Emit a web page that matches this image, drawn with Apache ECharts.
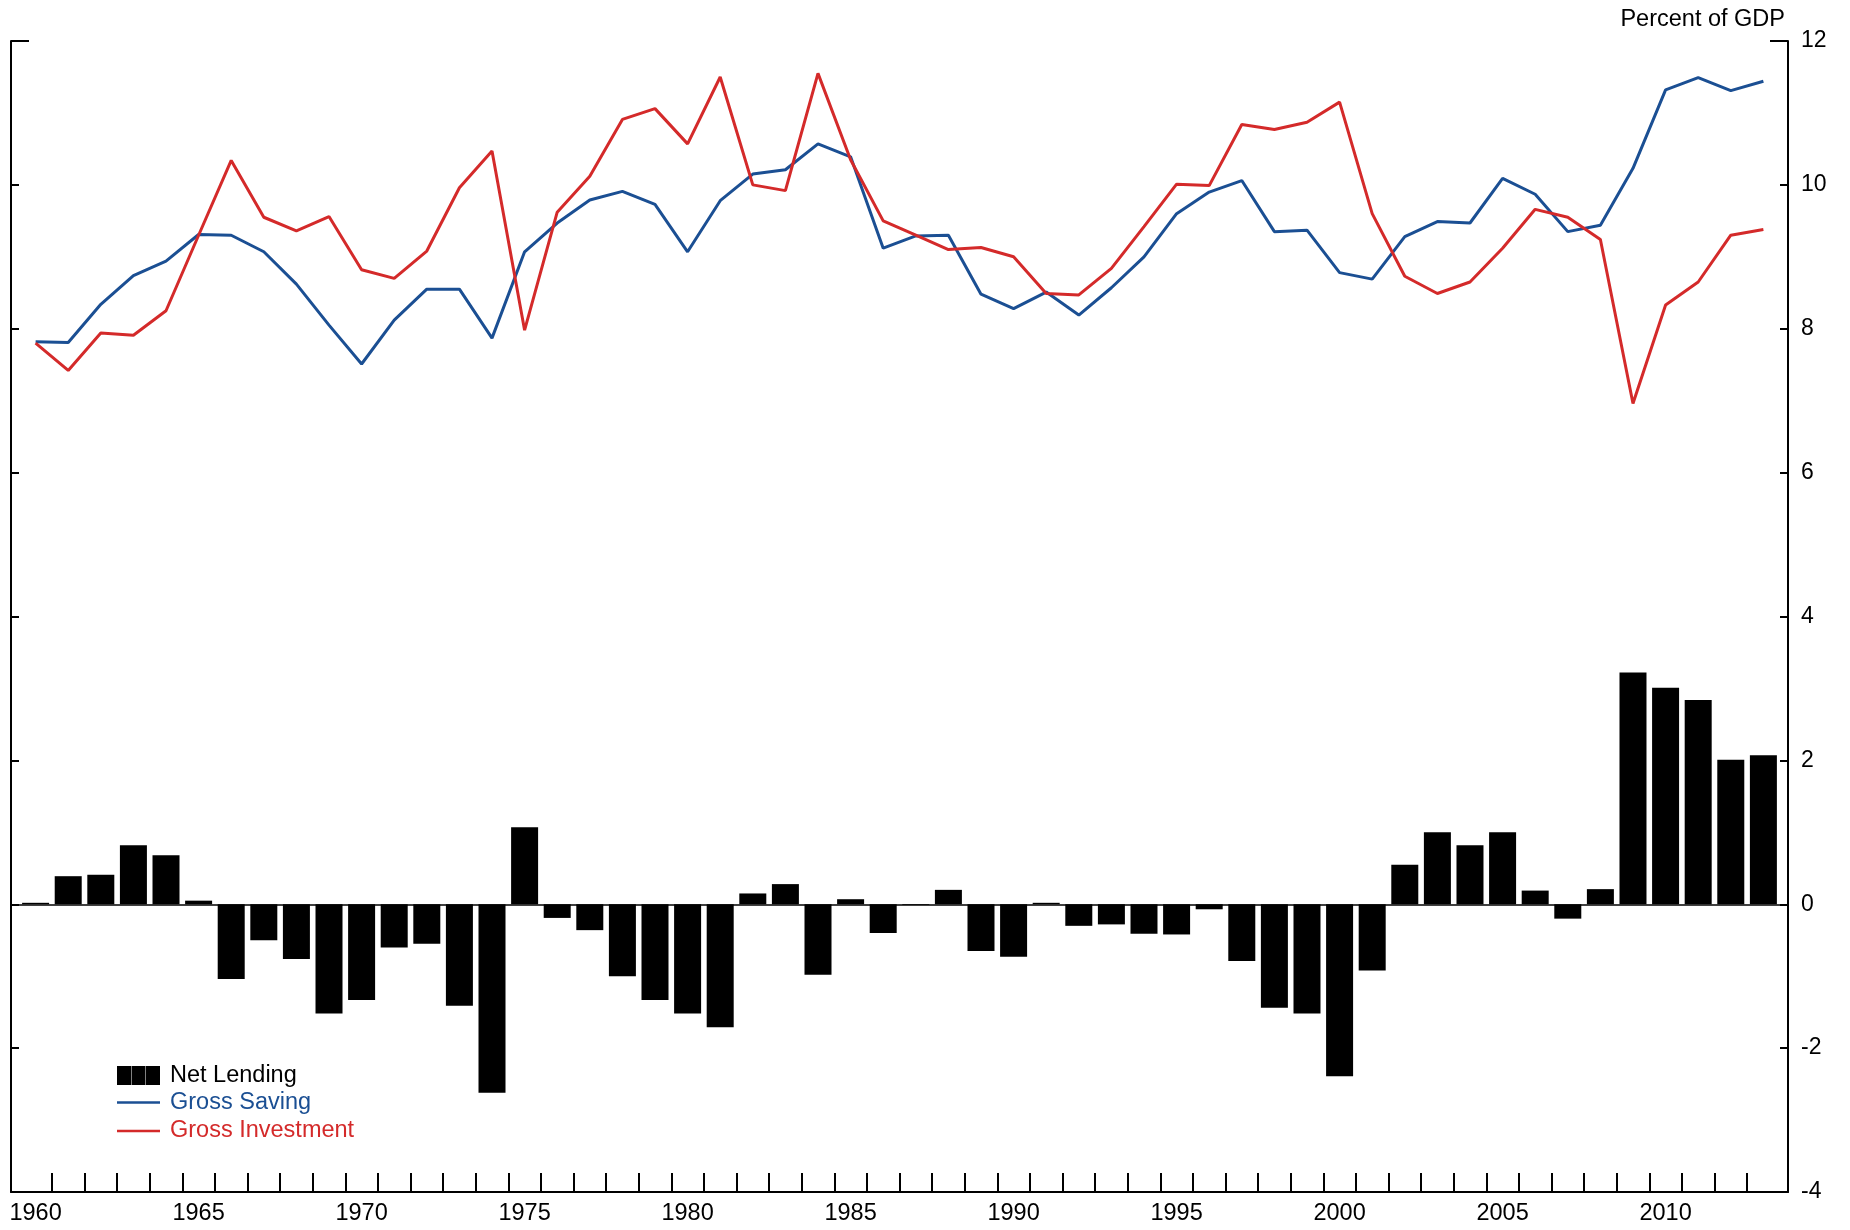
<!DOCTYPE html>
<html>
<head>
<meta charset="utf-8">
<script src="https://cdn.jsdelivr.net/npm/echarts@6/dist/echarts.min.js"></script>
<style>html,body{margin:0;padding:0;background:#fff}#c{width:1850px;height:1230px}</style>
</head>
<body>
<div id="c"></div>
<script>
const years = [1960,1961,1962,1963,1964,1965,1966,1967,1968,1969,
  1970,1971,1972,1973,1974,1975,1976,1977,1978,1979,
  1980,1981,1982,1983,1984,1985,1986,1987,1988,1989,
  1990,1991,1992,1993,1994,1995,1996,1997,1998,1999,
  2000,2001,2002,2003,2004,2005,2006,2007,2008,2009,
  2010,2011,2012,2013];
const grossSaving = [7.82,7.81,8.34,8.74,8.94,9.31,9.30,9.07,8.62,8.05,
  7.51,8.12,8.55,8.55,7.87,9.07,9.47,9.79,9.91,9.73,
  9.07,9.78,10.15,10.21,10.57,10.39,9.12,9.29,9.30,8.48,
  8.28,8.51,8.19,8.57,9.00,9.60,9.90,10.06,9.35,9.37,
  8.78,8.69,9.28,9.49,9.47,10.09,9.87,9.35,9.44,10.23,
  11.32,11.49,11.31,11.44];
const grossInvestment = [7.80,7.42,7.94,7.91,8.25,9.30,10.34,9.55,9.36,9.56,
  8.82,8.70,9.08,9.96,10.47,7.98,9.62,10.12,10.91,11.06,
  10.57,11.50,10.00,9.92,11.55,10.35,9.50,9.30,9.10,9.13,
  9.00,8.49,8.47,8.84,9.42,10.01,9.99,10.84,10.77,10.87,
  11.15,9.60,8.73,8.49,8.65,9.12,9.66,9.55,9.24,6.96,
  8.33,8.65,9.30,9.38];
const netLending = [0.02,0.39,0.41,0.82,0.68,0.05,-1.04,-0.50,-0.76,-1.52,
  -1.33,-0.60,-0.55,-1.41,-2.62,1.07,-0.19,-0.36,-1.00,-1.33,
  -1.52,-1.71,0.15,0.28,-0.98,0.07,-0.40,-0.01,0.20,-0.65,
  -0.73,0.02,-0.30,-0.28,-0.41,-0.42,-0.07,-0.79,-1.44,-1.52,
  -2.39,-0.92,0.55,1.00,0.82,1.00,0.19,-0.20,0.21,3.22,
  3.01,2.84,2.01,2.07];
const xTickLabels = ['1960','1965','1970','1975','1980','1985','1990','1995','2000','2005','2010'];
const yMin = -4, yMax = 12, yStep = 2;
const unitLabel = 'Percent of GDP';

const BLUE = '#1b4f93', RED = '#d42a2a';
const FONT = '"Liberation Sans", Arial, sans-serif';
const plotL = 11, plotR = 1788, plotT = 41, plotB = 1192;
const xMin = 1959.245, xMax = 2013.755;
const pxPerYear = (plotR - plotL) / (xMax - xMin);
const yearX = y => plotL + (y - xMin) * pxPerYear;
const tickL = yearX(years[0] + 0.5), tickR = yearX(years[years.length - 2] + 0.5);
const labL = yearX(+xTickLabels[0]), labR = yearX(+xTickLabels[xTickLabels.length - 1]);
const plotH = plotB - plotT;
const labStep = +xTickLabels[1] - +xTickLabels[0];

const chart = echarts.init(document.getElementById('c'), null, {renderer: 'canvas'});
const black2 = {color: '#000', width: 2};
chart.setOption({
  animation: false,
  backgroundColor: '#fff',
  textStyle: {fontFamily: FONT},
  grid: [
    {left: plotL, top: plotT, width: plotR - plotL, height: plotH},
    {left: tickL, top: plotT, width: tickR - tickL, height: plotH},
    {left: labL, top: plotT, width: labR - labL, height: plotH}
  ],
  xAxis: [
    {type: 'value', gridIndex: 0, min: xMin, max: xMax, position: 'bottom',
     axisLine: {show: true, onZero: false, lineStyle: black2},
     axisTick: {show: false}, axisLabel: {show: false}, splitLine: {show: false}},
    {type: 'value', gridIndex: 1, min: 0, max: years.length - 2, interval: 1, position: 'bottom',
     axisLine: {show: false, onZero: false},
     axisTick: {show: true, inside: true, length: 19, lineStyle: black2},
     axisLabel: {show: false}, splitLine: {show: false}},
    {type: 'value', gridIndex: 2, min: 0, max: (xTickLabels.length - 1) * labStep, interval: labStep, position: 'bottom',
     axisLine: {show: false, onZero: false}, axisTick: {show: false}, splitLine: {show: false},
     axisLabel: {show: true, showMinLabel: true, showMaxLabel: true, margin: 10, fontSize: 23.5, color: '#000', fontFamily: FONT,
       formatter: v => xTickLabels[Math.round(v / labStep)]}}
  ],
  yAxis: [
    {type: 'value', gridIndex: 0, position: 'left', min: yMin, max: yMax, interval: yStep,
     axisLine: {show: true, onZero: false, lineStyle: black2},
     axisTick: {show: true, inside: true, length: 8, lineStyle: black2},
     axisLabel: {show: false}, splitLine: {show: false}},
    {type: 'value', gridIndex: 0, position: 'right', min: yMin, max: yMax, interval: yStep,
     axisLine: {show: true, onZero: false, lineStyle: black2},
     axisTick: {show: true, inside: true, length: 8, lineStyle: black2},
     axisLabel: {show: true, margin: 13, fontSize: 23, color: '#000', fontFamily: FONT},
     splitLine: {show: false},
     name: unitLabel, nameLocation: 'end', nameGap: 21,
     nameTextStyle: {align: 'right', verticalAlign: 'middle', fontSize: 23.5, color: '#000', fontFamily: FONT, padding: [0, 3, 0, 0]}},
    {type: 'value', gridIndex: 0, position: 'left', min: 0, max: yMax - yMin, interval: yMax - yMin,
     axisLine: {show: false, onZero: false}, axisTick: {show: true, inside: true, length: 18, lineStyle: black2},
     axisLabel: {show: false}, splitLine: {show: false}},
    {type: 'value', gridIndex: 0, position: 'right', min: 0, max: yMax - yMin, interval: yMax - yMin,
     axisLine: {show: false, onZero: false}, axisTick: {show: true, inside: true, length: 18, lineStyle: black2},
     axisLabel: {show: false}, splitLine: {show: false}},
    {type: 'value', gridIndex: 1, min: 0, max: 1, show: false},
    {type: 'value', gridIndex: 2, min: 0, max: 1, show: false}
  ],
  legend: [
    {data: [{name: 'Net Lending', icon: 'path://M0,0H14.1V19H0ZM14.6,0H28.4V19H14.6ZM28.9,0H43V19H28.9Z'}],
     left: 117, top: 1063.5, padding: 0, itemWidth: 43, itemHeight: 19, selectedMode: false,
     textStyle: {color: '#000', fontSize: 23.5, lineHeight: 24, fontFamily: FONT, padding: [0, 0, 0, 5]}},
    {data: [{name: 'Gross Saving', icon: 'path://M0,0H43V2.7H0Z'}],
     left: 117, top: 1090.5, padding: 0, itemWidth: 43, itemHeight: 19, selectedMode: false,
     textStyle: {color: BLUE, fontSize: 23.5, lineHeight: 24, fontFamily: FONT, padding: [0, 0, 0, 5]}},
    {data: [{name: 'Gross Investment', icon: 'path://M0,0H43V2.7H0Z'}],
     left: 117, top: 1119, padding: 0, itemWidth: 43, itemHeight: 19, selectedMode: false,
     textStyle: {color: RED, fontSize: 23.5, lineHeight: 24, fontFamily: FONT, padding: [0, 0, 0, 5]}}
  ],
  series: [
    {name: 'Net Lending', type: 'bar', xAxisIndex: 0, yAxisIndex: 0, barWidth: 27,
     color: '#000', itemStyle: {color: '#000'},
     data: years.map((y, i) => [y, netLending[i]]),
     markLine: {silent: true, symbol: ['none', 'none'], label: {show: false},
       lineStyle: {color: '#000', width: 1.5, type: 'solid'}, data: [{yAxis: 0}]}},
    {name: 'Gross Saving', type: 'line', xAxisIndex: 0, yAxisIndex: 0, symbol: 'none',
     color: BLUE, lineStyle: {color: BLUE, width: 3},
     data: years.map((y, i) => [y, grossSaving[i]])},
    {name: 'Gross Investment', type: 'line', xAxisIndex: 0, yAxisIndex: 0, symbol: 'none',
     color: RED, lineStyle: {color: RED, width: 3},
     data: years.map((y, i) => [y, grossInvestment[i]])}
  ]
});
</script>
</body>
</html>
